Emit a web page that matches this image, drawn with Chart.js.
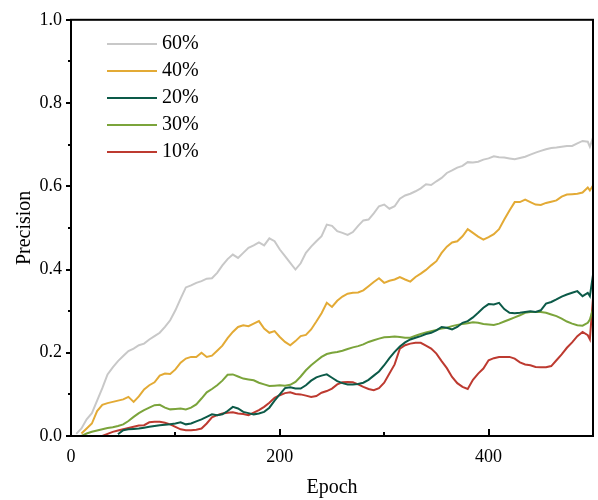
<!DOCTYPE html>
<html>
<head>
<meta charset="utf-8">
<script src="https://cdn.jsdelivr.net/npm/chart.js@4.4.0/dist/chart.umd.min.js"></script>
<style>
  html, body { margin: 0; background: #fff; }
</style>
</head>
<body>
<canvas id="chart" width="598" height="500"></canvas>
<script>
// epochs sampled every 5, plus the last few points where all curves jump
const epochs = [0, 5, 10, 15, 20, 25, 30, 35, 40, 45, 50, 55, 60, 65, 70, 75, 80, 85, 90, 95,
  100, 105, 110, 115, 120, 125, 130, 135, 140, 145, 150, 155, 160, 165, 170, 175, 180, 185, 190, 195,
  200, 205, 210, 215, 220, 225, 230, 235, 240, 245, 250, 255, 260, 265, 270, 275, 280, 285, 290, 295,
  300, 305, 310, 315, 320, 325, 330, 335, 340, 345, 350, 355, 360, 365, 370, 375, 380, 385, 390, 395,
  400, 405, 410, 415, 420, 425, 430, 435, 440, 445, 450, 455, 460, 465, 470, 475, 480, 485, 490, 495,
  497, 500];

const p60 = [null, 0.005, 0.018, 0.04, 0.055, 0.085, 0.115, 0.148, 0.165, 0.18,
  0.192, 0.204, 0.21, 0.218, 0.222, 0.232, 0.24, 0.248, 0.262, 0.278,
  0.302, 0.33, 0.357, 0.362, 0.368, 0.372, 0.378, 0.379, 0.392, 0.41,
  0.425, 0.436, 0.428, 0.44, 0.452, 0.458, 0.465, 0.458, 0.475, 0.468,
  0.448, 0.432, 0.416, 0.4, 0.415, 0.44, 0.455, 0.468, 0.48, 0.508,
  0.505, 0.492, 0.488, 0.483, 0.49, 0.505, 0.518, 0.52, 0.535, 0.552,
  0.556, 0.546, 0.552, 0.57, 0.578, 0.582, 0.588, 0.595, 0.605, 0.603,
  0.612, 0.62, 0.632, 0.638, 0.645, 0.649, 0.658, 0.657, 0.659, 0.664,
  0.667, 0.672, 0.67, 0.669, 0.667, 0.665, 0.668, 0.671, 0.676, 0.681,
  0.685, 0.689, 0.692, 0.693, 0.695, 0.697, 0.697, 0.703, 0.709, 0.707,
  0.695, 0.717];

const p40 = [null, null, 0.006, 0.018, 0.03, 0.06, 0.075, 0.079, 0.082, 0.085,
  0.088, 0.094, 0.082, 0.095, 0.112, 0.122, 0.129, 0.145, 0.15, 0.149,
  0.16, 0.176, 0.186, 0.19, 0.19, 0.2, 0.19, 0.193, 0.205, 0.217,
  0.235, 0.25, 0.262, 0.266, 0.264, 0.27, 0.276, 0.258, 0.248, 0.252,
  0.238, 0.226, 0.218, 0.228, 0.24, 0.243, 0.256, 0.275, 0.295, 0.32,
  0.31, 0.325, 0.335, 0.342, 0.344, 0.345, 0.35, 0.36, 0.37, 0.379,
  0.368, 0.373, 0.376, 0.382, 0.376, 0.371, 0.382, 0.39, 0.399, 0.41,
  0.42, 0.44, 0.455, 0.465, 0.468, 0.48, 0.497, 0.488, 0.479, 0.472,
  0.478, 0.485, 0.497, 0.52, 0.542, 0.562, 0.562, 0.568, 0.562, 0.556,
  0.555, 0.56, 0.563, 0.566, 0.575, 0.58, 0.581, 0.582, 0.585, 0.597,
  0.59, 0.602];

const p20 = [null, null, null, null, null, null, null, null, null, 0.004,
  0.014, 0.016, 0.017, 0.018, 0.02, 0.022, 0.024, 0.026, 0.027, 0.028,
  0.03, 0.033, 0.028, 0.03, 0.035, 0.04, 0.046, 0.052, 0.05, 0.052,
  0.06, 0.07, 0.066, 0.058, 0.055, 0.052, 0.054, 0.058, 0.068, 0.085,
  0.1, 0.115, 0.117, 0.114, 0.114, 0.122, 0.133, 0.141, 0.145, 0.148,
  0.14, 0.132, 0.127, 0.124, 0.124, 0.125, 0.128, 0.135, 0.145, 0.155,
  0.17, 0.187, 0.202, 0.215, 0.225, 0.232, 0.236, 0.24, 0.245, 0.248,
  0.254, 0.262, 0.26, 0.256, 0.262, 0.272, 0.276, 0.285, 0.296, 0.308,
  0.317, 0.316, 0.32, 0.305, 0.296, 0.295, 0.296, 0.298, 0.3, 0.298,
  0.302, 0.318, 0.322, 0.328, 0.335, 0.34, 0.344, 0.348, 0.336, 0.344,
  0.336, 0.387];

const p30 = [null, null, 0, 0.006, 0.01, 0.013, 0.016, 0.019, 0.021, 0.024,
  0.028, 0.036, 0.046, 0.055, 0.062, 0.068, 0.074, 0.075, 0.068, 0.064,
  0.065, 0.066, 0.064, 0.068, 0.076, 0.09, 0.105, 0.113, 0.122, 0.133,
  0.147, 0.148, 0.143, 0.138, 0.136, 0.134, 0.128, 0.124, 0.12, 0.121,
  0.122, 0.121, 0.123, 0.13, 0.143, 0.158, 0.17, 0.18, 0.19, 0.197,
  0.2, 0.202, 0.205, 0.209, 0.213, 0.216, 0.22, 0.226, 0.23, 0.234,
  0.237, 0.238, 0.239, 0.238, 0.236, 0.236, 0.241, 0.245, 0.249, 0.252,
  0.255, 0.258, 0.26, 0.264, 0.267, 0.269, 0.271, 0.273, 0.272, 0.269,
  0.268, 0.267, 0.27, 0.275, 0.28, 0.285, 0.29, 0.296, 0.298, 0.298,
  0.298, 0.296, 0.292, 0.288, 0.282, 0.275, 0.27, 0.266, 0.265, 0.272,
  0.28, 0.305];

const p10 = [null, null, null, null, null, null, 0, 0.005, 0.01, 0.013,
  0.016, 0.019, 0.022, 0.025, 0.026, 0.033, 0.034, 0.034, 0.032, 0.028,
  0.022, 0.016, 0.014, 0.014, 0.015, 0.018, 0.03, 0.045, 0.05, 0.054,
  0.056, 0.057, 0.054, 0.053, 0.05, 0.056, 0.062, 0.07, 0.08, 0.092,
  0.098, 0.103, 0.105, 0.101, 0.1, 0.097, 0.094, 0.096, 0.104, 0.108,
  0.114, 0.124, 0.129, 0.13, 0.129, 0.124, 0.118, 0.113, 0.11, 0.115,
  0.128, 0.15, 0.172, 0.21, 0.218, 0.222, 0.224, 0.224, 0.217, 0.21,
  0.198, 0.18, 0.163, 0.142, 0.127, 0.118, 0.113, 0.135, 0.15, 0.162,
  0.182, 0.187, 0.19, 0.19, 0.19, 0.186, 0.177, 0.172, 0.17, 0.166,
  0.165, 0.165, 0.168, 0.182, 0.196, 0.212, 0.225, 0.24, 0.25, 0.242,
  0.232, 0.332];

const seriesNames = ["60%", "40%", "20%", "30%", "10%"];
const seriesColors = ["#c8c8c8", "#e3aa35", "#0c5a48", "#7ba43b", "#bd3a30"];
const seriesValues = [p60, p40, p20, p30, p10];

const xTicks = [0, 200, 400];
const xMinorTicks = [100, 300, 500];
const yTicks = [0, 0.2, 0.4, 0.6, 0.8, 1.0];
const yMinorTicks = [0.1, 0.3, 0.5, 0.7, 0.9];

const serif = "'Liberation Serif', 'Times New Roman', serif";
Chart.defaults.font.family = serif;
Chart.defaults.color = "#000";

// box, tick marks and the legend inside the plot
const framePlugin = {
  id: "frame",
  afterDraw(chart) {
    const { ctx, chartArea: a, scales: { x, y } } = chart;
    ctx.save();
    ctx.strokeStyle = "#000";
    ctx.lineWidth = 2;
    ctx.strokeRect(a.left, a.top, a.right - a.left, a.bottom - a.top);
    ctx.beginPath();
    yTicks.forEach(v => { const p = Math.round(y.getPixelForValue(v)); ctx.moveTo(a.left - 5, p); ctx.lineTo(a.left, p); });
    yMinorTicks.forEach(v => { const p = Math.round(y.getPixelForValue(v)); ctx.moveTo(a.left - 3, p); ctx.lineTo(a.left, p); });
    xTicks.forEach(v => { const p = Math.round(x.getPixelForValue(v)); ctx.moveTo(p, a.bottom); ctx.lineTo(p, a.bottom - 7); });
    xMinorTicks.forEach(v => { const p = Math.round(x.getPixelForValue(v)); ctx.moveTo(p, a.bottom); ctx.lineTo(p, a.bottom - 4); });
    ctx.stroke();

    ctx.font = "20px " + serif;
    ctx.textBaseline = "middle";
    ctx.fillStyle = "#000";
    seriesNames.forEach((name, i) => {
      const yy = 44 + i * 27;
      ctx.strokeStyle = seriesColors[i];
      ctx.lineWidth = 2;
      ctx.beginPath();
      ctx.moveTo(107, yy);
      ctx.lineTo(157, yy);
      ctx.stroke();
      ctx.fillText(name, 162, yy);
    });
    ctx.restore();
  }
};

new Chart(document.getElementById("chart"), {
  type: "line",
  data: {
    datasets: seriesNames.map((name, i) => ({
      label: name,
      data: epochs.map((e, j) => ({ x: e, y: seriesValues[i][j] })),
      borderColor: seriesColors[i],
      borderWidth: 2,
      pointRadius: 0,
      tension: 0,
      fill: false
    }))
  },
  options: {
    responsive: false,
    animation: false,
    layout: { padding: { left: 13, top: 16, right: 5, bottom: 0 } },
    plugins: { legend: { display: false }, tooltip: { enabled: false } },
    scales: {
      x: {
        type: "linear",
        min: 0,
        max: 500,
        grid: { display: false, drawTicks: false },
        border: { display: false },
        afterBuildTicks: s => { s.ticks = xTicks.map(v => ({ value: v })); },
        afterFit: s => { s.height = 64; },
        ticks: { font: { size: 18 }, padding: 10, maxRotation: 0 },
        title: { display: true, text: "Epoch", font: { size: 20 }, padding: 0 }
      },
      y: {
        min: 0,
        max: 1,
        grid: { display: false, drawTicks: false },
        border: { display: false },
        afterBuildTicks: s => { s.ticks = yTicks.map(v => ({ value: v })); },
        afterFit: s => { s.width = 58; },
        ticks: { font: { size: 18 }, padding: 9, callback: v => v.toFixed(1) },
        title: { display: true, text: "Precision", font: { size: 20 }, padding: 0 }
      }
    }
  },
  plugins: [framePlugin]
});
</script>
</body>
</html>
